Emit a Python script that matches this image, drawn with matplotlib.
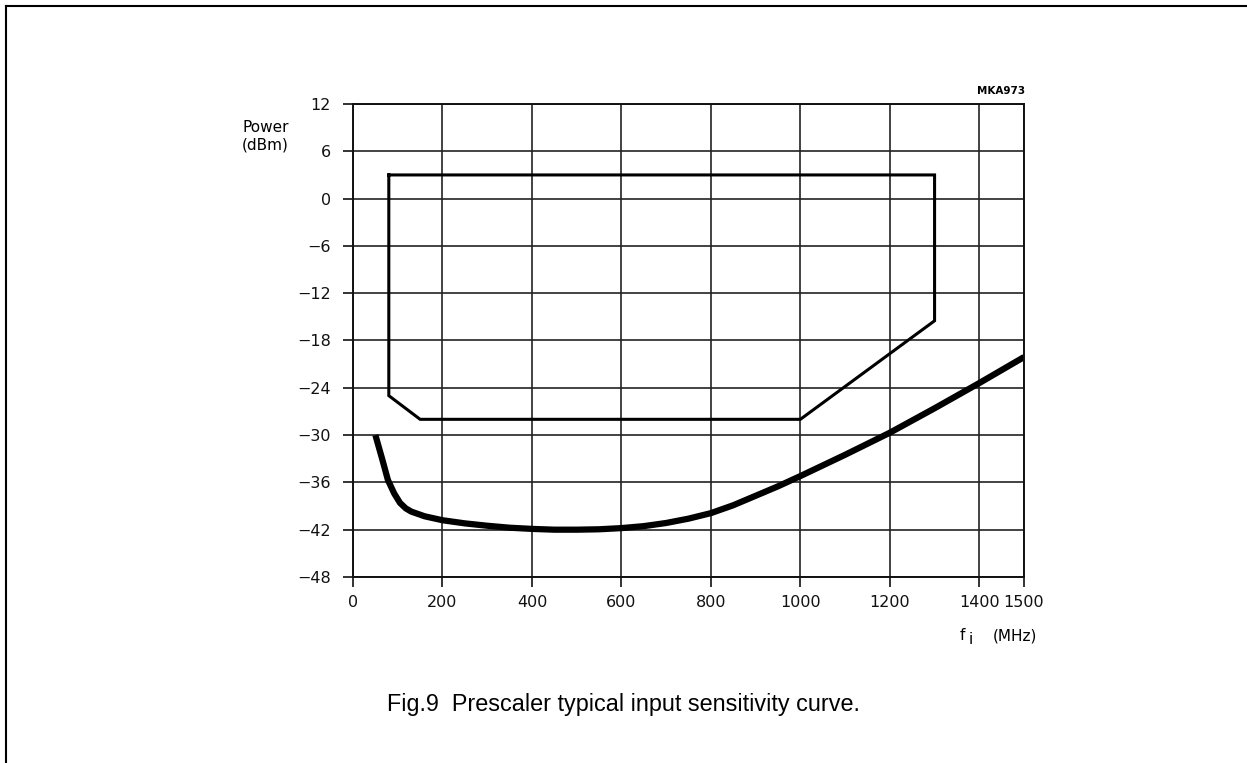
import matplotlib.pyplot as plt
import matplotlib.lines as mlines

# operating window (frequency in MHz, power in dBm)
window_f = [80, 80, 150, 1000, 1300, 1300, 80]
window_p = [3, -25, -28, -28, -15.5, 3, 3]

# typical sensitivity curve
curve_f = [50, 65, 78, 92, 105, 118, 130, 160, 200, 250, 300, 350, 400, 450,
           500, 550, 600, 650, 700, 750, 800, 850, 900, 950, 1000, 1100, 1200,
           1300, 1400, 1500]
curve_p = [-30, -33.0, -35.7, -37.4, -38.6, -39.3, -39.7, -40.3, -40.8, -41.2,
           -41.5, -41.75, -41.9, -42.0, -42.0, -41.95, -41.8, -41.55, -41.15,
           -40.6, -39.9, -38.9, -37.7, -36.5, -35.2, -32.5, -29.7, -26.6,
           -23.4, -20.1]

y_ticks = [-48, -42, -36, -30, -24, -18, -12, -6, 0, 6, 12]
x_ticks = [0, 200, 400, 600, 800, 1000, 1200, 1400, 1500]

plt.rcParams['font.family'] = 'DejaVu Sans'

fig = plt.figure(figsize=(12.47, 7.63), dpi=100)
ax = fig.add_axes([0.2831, 0.2438, 0.5381, 0.6199])

ax.plot(window_f, window_p, color='black', lw=2.2, solid_joinstyle='miter')
ax.plot(curve_f, curve_p, color='black', lw=4.5, solid_capstyle='butt')

ax.set_xlim(0, 1500)
ax.set_ylim(-48, 12)
ax.set_xticks(x_ticks)
ax.set_yticks(y_ticks)
ax.grid(True, color='#222222', lw=1.2)
for s in ax.spines.values():
    s.set_linewidth(1.4)
    s.set_color('#111111')
ax.tick_params(length=7, width=1.2, labelsize=11.5, colors='#111111')
ax.tick_params(axis='y', pad=9)
ax.tick_params(axis='x', pad=6)

fig.text(242 / 1247, 1 - 136 / 763, 'Power\n(dBm)', fontsize=11,
         ha='left', va='center', linespacing=1.25)
fig.text(1025 / 1247, 1 - 91 / 763, 'MKA973', fontsize=7.5, weight='bold',
         ha='right', va='center')
fig.text(960 / 1247, 1 - 636 / 763, 'f', fontsize=11, ha='left', va='center')
fig.text(969 / 1247, 1 - 640 / 763, 'i', fontsize=11, ha='left', va='center')
fig.text(993 / 1247, 1 - 636 / 763, '(MHz)', fontsize=11, ha='left', va='center')

fig.text(0.5, 1 - 705 / 763, 'Fig.9  Prescaler typical input sensitivity curve.',
         fontsize=16.8, family='Liberation Sans', ha='center', va='center')

# page frame: top and left edges only
fig.add_artist(mlines.Line2D([6 / 1247, 1], [1 - 6 / 763, 1 - 6 / 763],
                             color='black', lw=1.5))
fig.add_artist(mlines.Line2D([6 / 1247, 6 / 1247], [0, 1 - 6 / 763],
                             color='black', lw=1.5))

fig.savefig('out.png', dpi=100)
